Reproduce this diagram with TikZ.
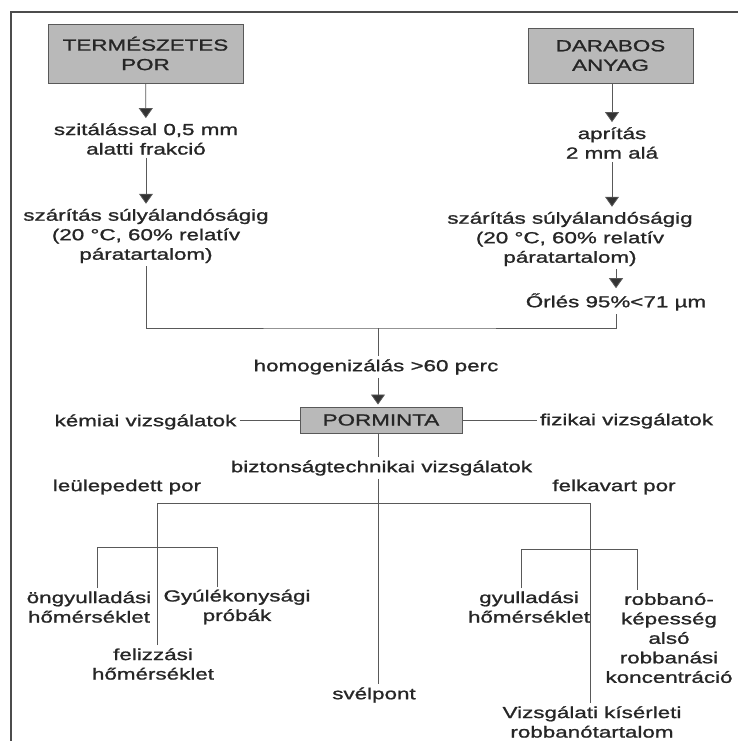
\documentclass[tikz,border=0pt]{standalone}
\usepackage{fontspec}
\setmainfont{Liberation Sans}[FakeStretch=1.4, FakeBold=1.2]
\usetikzlibrary{arrows.meta}

\begin{document}
\begin{tikzpicture}[x=1pt, y=-1pt, font=\fontsize{16}{19.5}\selectfont,
    txt/.style={text=black!85, align=center, inner sep=3pt},
    startbox/.style={txt, draw=black!65, line width=0.9pt, fill=gray!55, inner sep=0pt},
    ln/.style={draw=black!65, line width=0.8pt},
    arr/.style={ln, -{Triangle[width=14pt, length=10pt, fill=black!80]}, shorten >=2pt}]

        \useasboundingbox (0,0) rectangle (738,741);

        % Frame
        \draw[black!70, line width=2pt] (11,741) -- (11,12) -- (738,12);

        % Natural dust branch (left)
        \node[startbox, minimum width=195, minimum height=59] (natural) at (145.5,53.5) {TERMÉSZETES\\POR};
        \node[txt] (sieve) at (146,139) {szitálással 0,5 mm\\alatti frakció};
        \node[txt] (dryL) at (146,236) {szárítás súlyálandóságig\\(20 °C, 60\% relatív\\páratartalom)};

        % Lump material branch (right)
        \node[startbox, minimum width=165, minimum height=55] (lump) at (610.5,55.5) {DARABOS\\ANYAG};
        \node[txt] (crush) at (612,143) {aprítás\\2 mm alá};
        \node[txt] (dryR) at (570,239) {szárítás súlyálandóságig\\(20 °C, 60\% relatív\\páratartalom)};
        \node[txt] (mill) at (616,302) {Őrlés 95\%<71 µm};

        \draw[arr] (natural) -- (sieve);
        \draw[arr] (sieve) -- (dryL);
        \draw[arr] (lump.south -| crush) -- (crush);
        \draw[arr] (crush) -- (dryR.north -| crush);
        \draw[arr] (dryR.south -| mill) -- (mill);

        % Merge and homogenise
        \coordinate (join) at (378,328);
        \node[txt] (homog) at (376,367) {homogenizálás >60 perc};
        \node[startbox, minimum width=162, minimum height=26] (sample) at (381,420) {PORMINTA};
        \draw[ln] (dryL.south) |- (join) -| (mill.south);
        \draw[ln] (join) -- (homog.north -| join);
        \draw[arr] (homog.south -| join) -- (sample.north -| join);

        % Test groups
        \node[txt] (chem) at (145.5,422) {kémiai vizsgálatok};
        \node[txt] (phys) at (626.5,421) {fizikai vizsgálatok};
        \node[txt] (safety) at (381.5,468) {biztonságtechnikai vizsgálatok};
        \draw[ln] (chem.east |- sample) -- (sample);
        \draw[ln] (sample) -- (phys.west |- sample);
        \draw[ln] (sample.south -| join) -- (safety.north -| join);

        % Settled / stirred dust
        \node[txt] (settled) at (127,487) {leülepedett por};
        \node[txt] (stirred) at (614,487) {felkavart por};
        \node[txt] (smoulder) at (374,695) {svélpont};
        \node[txt] (glow) at (153,664) {felizzási\\hőmérséklet};
        \node[txt] (vessel) at (592,722) {Vizsgálati kísérleti\\robbanótartalom};
        \draw[ln] (safety.south -| join) -- (smoulder.north -| join);
        \coordinate (brL) at (157,503);
        \coordinate (brR) at (590,503);
        \draw[ln] (glow.north -| brL) -- (brL) -- (brR) -- (vessel.north -| brR);

        % Settled dust tests
        \node[txt] (selfign) at (89,607) {öngyulladási\\hőmérséklet};
        \node[txt] (flamm) at (237,607) {Gyúlékonysági\\próbák};
        \coordinate (subL1) at (97,547);
        \coordinate (subL2) at (217,547);
        \draw[ln] (selfign.north -| subL1) -- (subL1) -- (subL2) -- (flamm.north -| subL2);

        % Stirred dust tests
        \node[txt] (ignite) at (529,607) {gyulladási\\hőmérséklet};
        \node[txt] (explo) at (669,638) {robbanó-\\képesség\\alsó\\robbanási\\koncentráció};
        \coordinate (subR1) at (521,549);
        \coordinate (subR2) at (637,549);
        \draw[ln] (ignite.north -| subR1) -- (subR1) -- (subR2) -- (explo.north -| subR2);

    \end{tikzpicture}
\end{document}
